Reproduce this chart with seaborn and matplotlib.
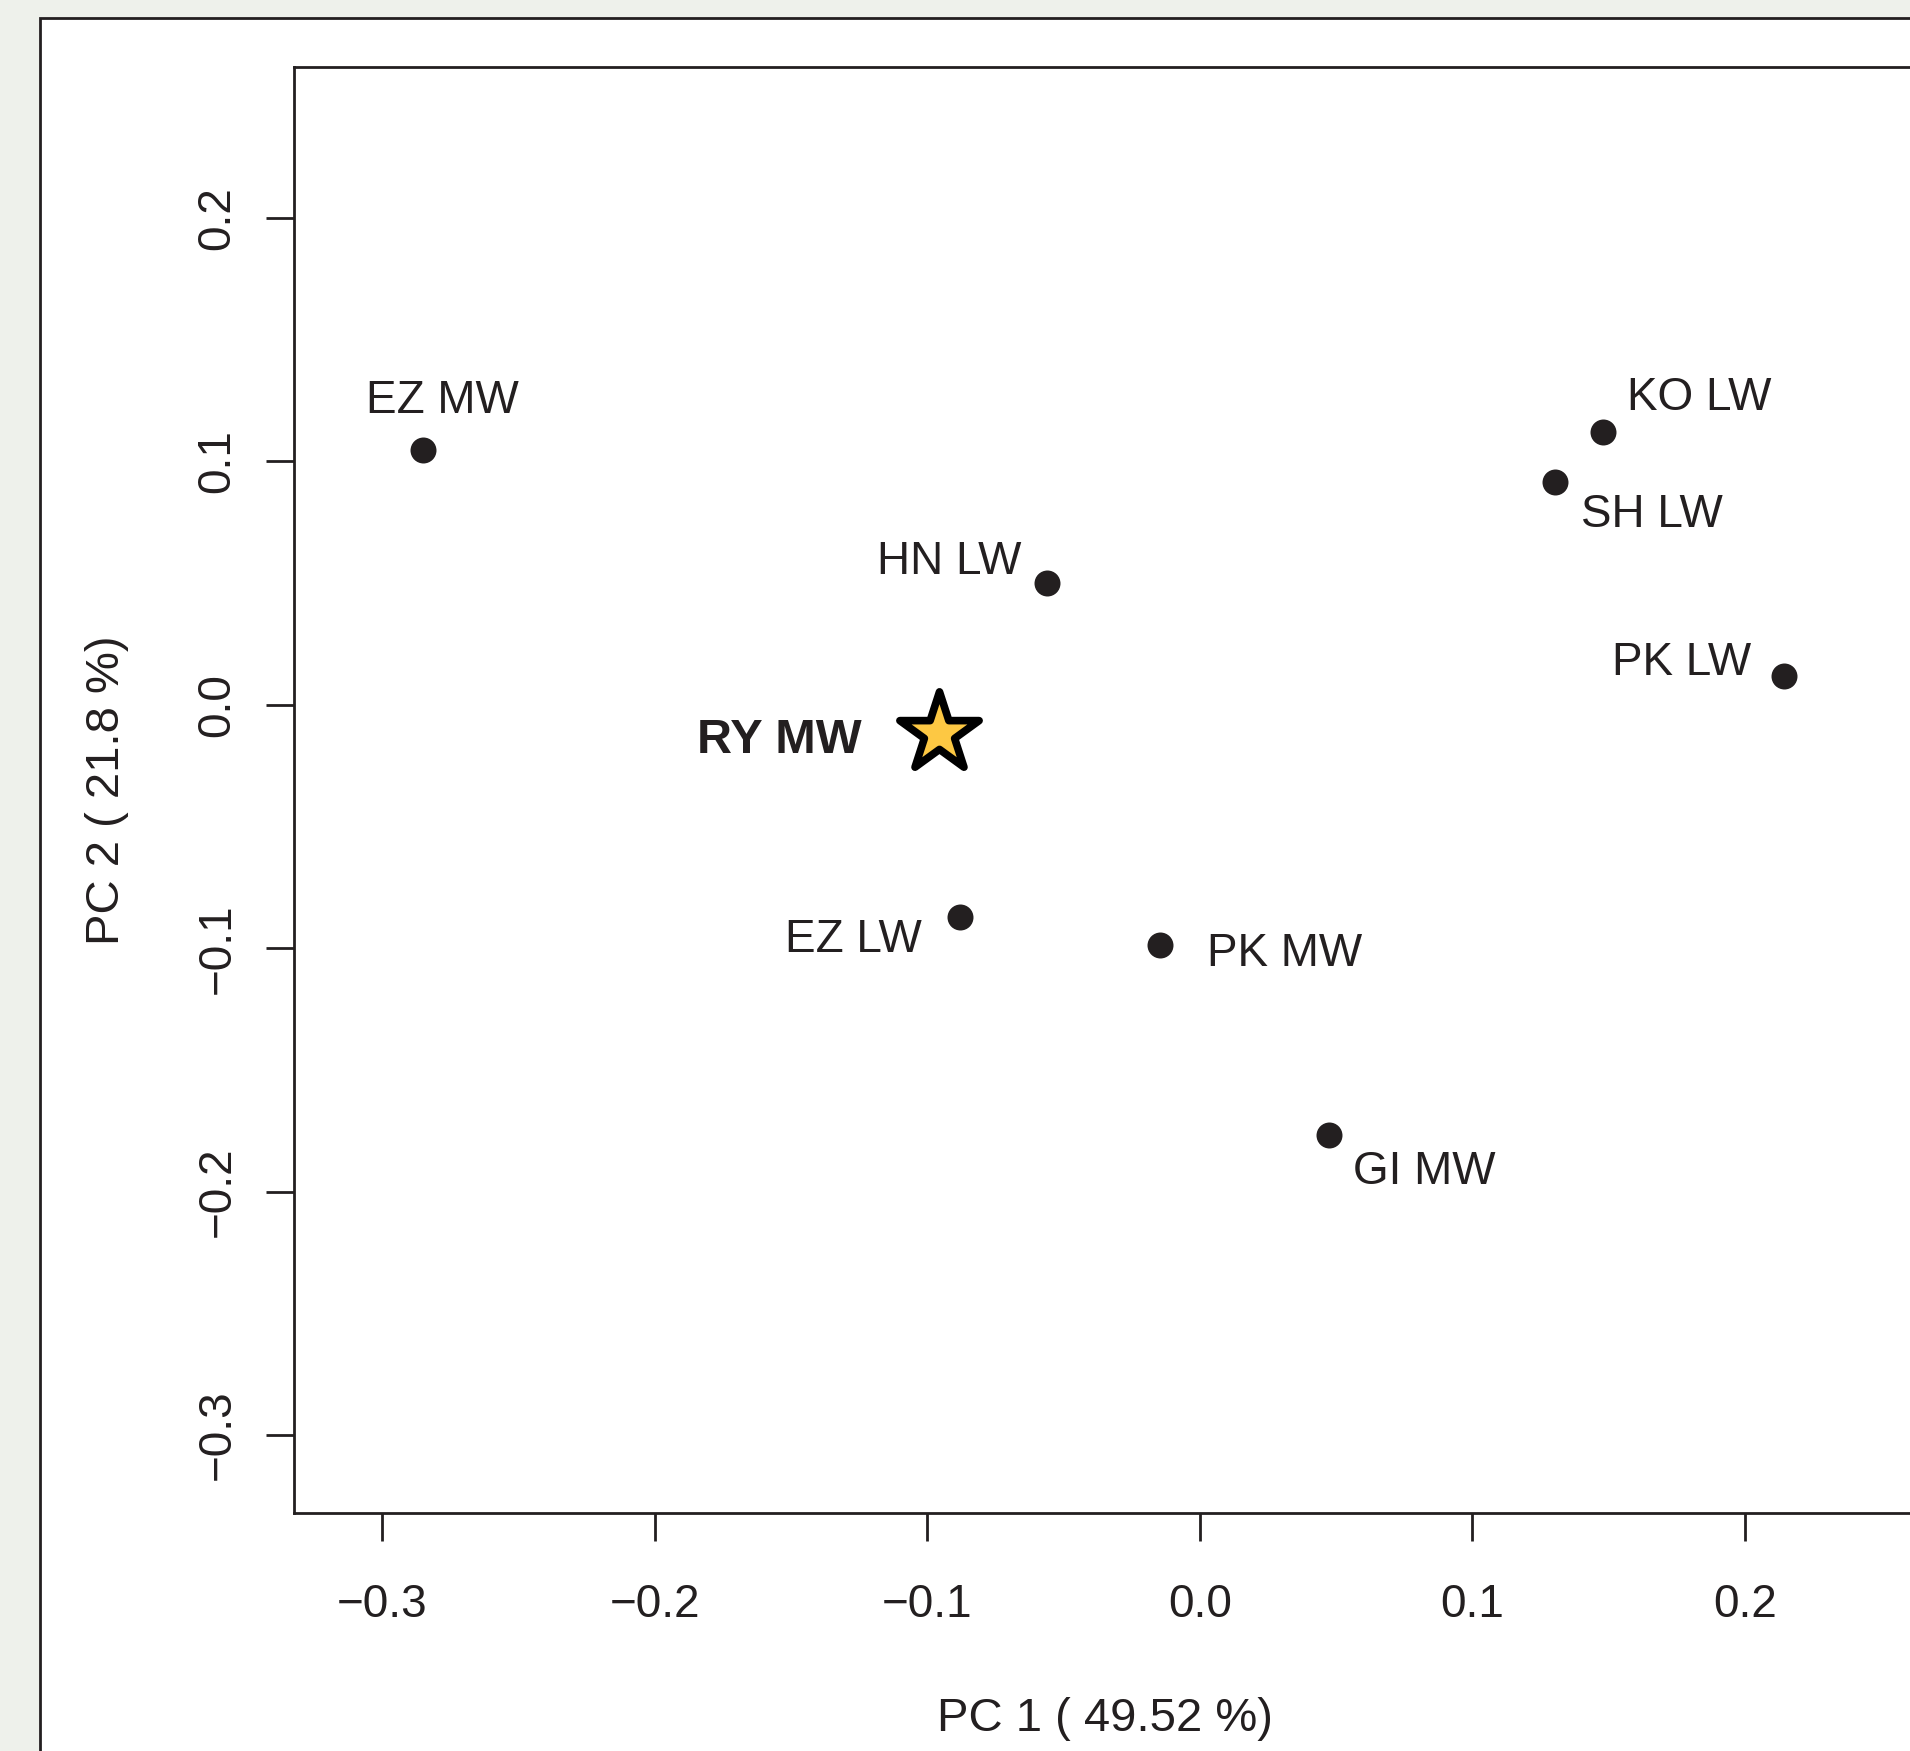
import matplotlib
matplotlib.use("Agg")
import matplotlib.pyplot as plt
import seaborn as sns
import pandas as pd
from matplotlib.patches import Rectangle

# ---- data ----
labels = ["EZ MW", "KO LW", "SH LW", "HN LW", "PK LW", "EZ LW", "PK MW", "GI MW"]
pc1 = [-0.2849, 0.1477, 0.1304, -0.0559, 0.2143, -0.0880, -0.0147, 0.0473]
pc2 = [0.1046, 0.1119, 0.0916, 0.0502, 0.0118, -0.0873, -0.0986, -0.1767]
focus_label = ["RY MW"]
focus_pc1 = [-0.0957]
focus_pc2 = [-0.0117]
x_ticks = [-0.3, -0.2, -0.1, 0.0, 0.1, 0.2]
y_ticks = [-0.3, -0.2, -0.1, 0.0, 0.1, 0.2]
x_title = "PC 1 ( 49.52 %)"
y_title = "PC 2 ( 21.8 %)"

# ---- styling ----
INK = "#231F20"
STAR = "#FDC843"
BG = "#EEF1EB"
PX = 0.72  # points per pixel at dpi 100
# label placement: (ha, dx_px, dy_px)  dy positive = up
placement = {
    "EZ MW": ("left", -57, 37),
    "KO LW": ("left", 24, 22),
    "SH LW": ("left", 26, -45),
    "HN LW": ("right", -26, 9),
    "PK LW": ("right", -33, 1),
    "EZ LW": ("right", -38, -35),
    "PK MW": ("left", 47, -21),
    "GI MW": ("left", 24, -49),
    "RY MW": ("right", -77, -20),
}

sns.set_style("white")
plt.rcParams["font.family"] = ["Liberation Sans", "DejaVu Sans"]
plt.rcParams["axes.unicode_minus"] = True

W, H = 1910, 1751
fig = plt.figure(figsize=(W / 100, H / 100), dpi=100, facecolor=BG)

# white panel with border (extends past the right and bottom edges)
fig.add_artist(Rectangle((40 / W, -0.5), 2.0, 0.5 + (1 - 18 / H),
                         transform=fig.transFigure, facecolor="white",
                         edgecolor=INK, linewidth=2.0, zorder=-1))

ax_l, ax_r, ax_t, ax_b = 294, 1916, 67, 1513
ax = fig.add_axes([ax_l / W, 1 - ax_b / H, (ax_r - ax_l) / W, (ax_b - ax_t) / H])
ax.set_facecolor("white")

df = pd.DataFrame({"PC1": pc1, "PC2": pc2, "label": labels})
fdf = pd.DataFrame({"PC1": focus_pc1, "PC2": focus_pc2, "label": focus_label})

sns.scatterplot(data=df, x="PC1", y="PC2", ax=ax, color=INK, s=350,
                linewidth=0, zorder=3)
sns.scatterplot(data=fdf, x="PC1", y="PC2", ax=ax, color=STAR, marker="*",
                s=3600, edgecolor="black", linewidth=5.5, zorder=4)

for d, bold in ((df, False), (fdf, True)):
    for _, r in d.iterrows():
        ha, dx, dy = placement[r["label"]]
        ax.annotate(r["label"], (r["PC1"], r["PC2"]),
                    xytext=(dx * PX, dy * PX), textcoords="offset points",
                    ha=ha, va="baseline", fontsize=35 if bold else 33, color=INK,
                    fontweight="bold" if bold else "normal", zorder=5)

ax.set_xlim(-0.3323, 0.2627)
ax.set_ylim(-0.332, 0.262)

def fmt(v):
    s = f"{v:.1f}"
    return "0.0" if s in ("0.0", "-0.0") else s.replace("-", "\u2212")

ax.set_xticks(x_ticks, labels=[fmt(v) for v in x_ticks])
ax.set_yticks(y_ticks, labels=[fmt(v) for v in y_ticks], rotation=90, va="center")
ax.tick_params(axis="both", direction="out", length=28 * PX, width=2.0,
               color=INK, labelsize=33, labelcolor=INK)
ax.tick_params(axis="x", pad=30.5)
ax.tick_params(axis="y", pad=19)
ax.tick_params(bottom=True, left=True)

for sp in ax.spines.values():
    sp.set_visible(True)
    sp.set_color(INK)
    sp.set_linewidth(2.0)

ax.set_xlabel(x_title, fontsize=34, color=INK)
ax.set_ylabel(y_title, fontsize=34, color=INK)
ax.xaxis.set_label_coords(0.5, -(1697 - ax_b) / (ax_b - ax_t))
ax.yaxis.set_label_coords((129 - ax_l) / (ax_r - ax_l), 0.5)

fig.savefig("out.png", dpi=100, facecolor=BG)
